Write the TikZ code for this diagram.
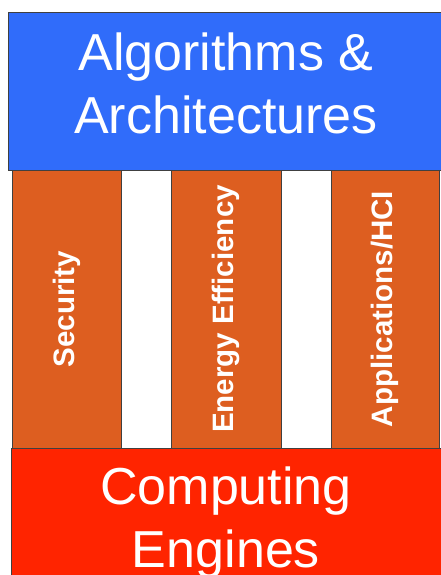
\documentclass[tikz,border=0pt]{standalone}
\usepackage{fontspec}
\setmainfont{Liberation Sans}
\usetikzlibrary{positioning}
\definecolor{algblue}{RGB}{48,108,250}
\definecolor{pillarorange}{RGB}{221,94,32}
\definecolor{enginered}{RGB}{255,36,0}

\begin{document}
\begin{tikzpicture}[x=0.025cm,y=-0.025cm,line width=0.6pt,
  layer/.style={draw=black!75,inner sep=0pt,outer sep=0pt,minimum width=10.9cm,minimum height=3.95cm},
  pillar/.style={draw=black!75,fill=pillarorange,rotate=90,inner sep=0pt,outer sep=0pt,minimum width=6.95cm,text=white,font=\bfseries\fontsize{21}{25}\selectfont},
  bigtext/.style={text=white,align=center,font=\fontsize{37}{44.8}\selectfont}]
  \useasboundingbox (0,0) rectangle (441,575);
  \clip (0,0) rectangle (441,575);
  % the three pillars between the two layers
  \node[pillar,minimum height=2.725cm] (security) at (66.5,309) {Security};
  \node[pillar,minimum height=2.75cm] (energy) at (226,309) {Energy Efficiency};
  \node[pillar,minimum height=2.7cm] (apps) at (385,309) {Applications/HCI};
  % top and bottom layers
  \node[layer,fill=algblue] (algo) at (226,91) {};
  \node[layer,fill=enginered,minimum width=10.825cm] (engines) at (227.5,527) {};
  \node[bigtext] (algotext) at (226,83) {Algorithms \&\\Architectures};
  \node[bigtext] (enginetext) at (226,523) {Computing\\Engines};
\end{tikzpicture}
\end{document}
